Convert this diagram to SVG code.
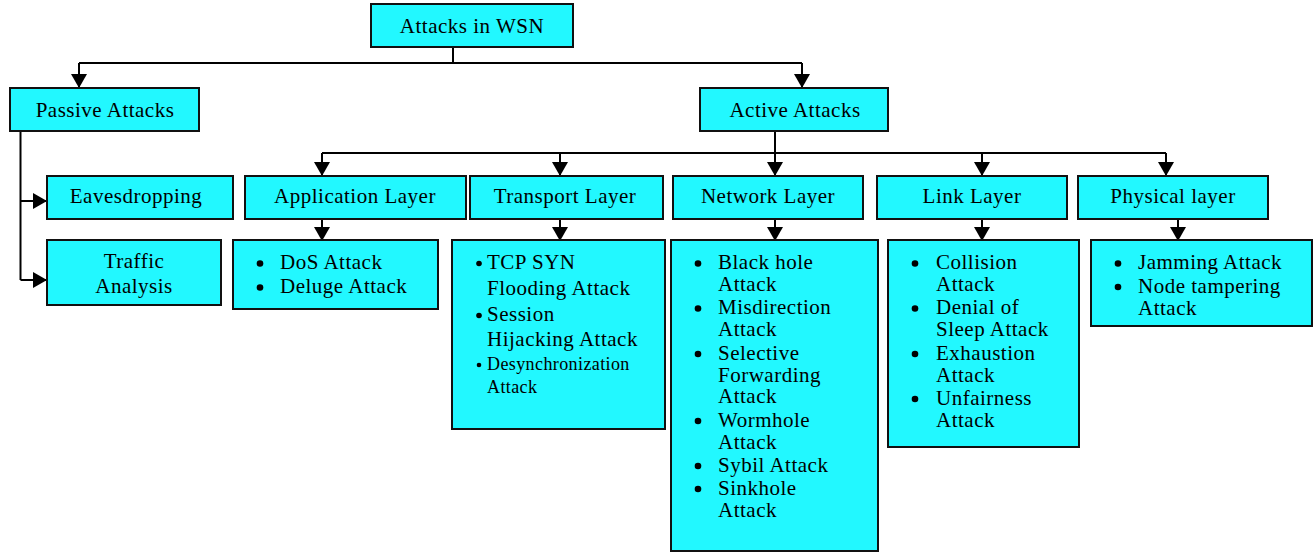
<svg xmlns="http://www.w3.org/2000/svg" width="1313" height="552" viewBox="0 0 1313 552">
<style>
.box{fill:#22F8FF;stroke:#111;stroke-width:2}
.t{font-family:"Liberation Serif","Times New Roman",serif;font-size:21px;letter-spacing:0.5px;fill:#000;text-anchor:middle}
.i{font-family:"Liberation Serif","Times New Roman",serif;font-size:21px;letter-spacing:0.5px;fill:#000}
.s{font-size:18px;letter-spacing:0.4px}
.c{fill:none;stroke:#000;stroke-width:2}
.b{fill:#000}
</style>
<defs>
<marker id="ah" viewBox="0 0 14 16" refX="14" refY="8" markerWidth="14" markerHeight="16" markerUnits="userSpaceOnUse" orient="auto">
<path d="M0,0 L14,8 L0,16 z" fill="#000"/>
</marker>
</defs>
<g id="connectors">
<path class="c" d="M453,47 V63"/>
<path class="c" d="M79,63 H802"/>
<path class="c" d="M79,63 V88" marker-end="url(#ah)"/>
<path class="c" d="M802,63 V88" marker-end="url(#ah)"/>
<path class="c" d="M20.5,131 V280"/>
<path class="c" d="M20.5,201 H47" marker-end="url(#ah)"/>
<path class="c" d="M20.5,280 H47" marker-end="url(#ah)"/>
<path class="c" d="M775,131 V153"/>
<path class="c" d="M322,153 H1166"/>
<path class="c" d="M322,153 V176" marker-end="url(#ah)"/>
<path class="c" d="M560,153 V176" marker-end="url(#ah)"/>
<path class="c" d="M775,153 V176" marker-end="url(#ah)"/>
<path class="c" d="M982,153 V176" marker-end="url(#ah)"/>
<path class="c" d="M1166,153 V176" marker-end="url(#ah)"/>
<path class="c" d="M322,219 V241" marker-end="url(#ah)"/>
<path class="c" d="M560,219 V241" marker-end="url(#ah)"/>
<path class="c" d="M775,219 V241" marker-end="url(#ah)"/>
<path class="c" d="M982,219 V241" marker-end="url(#ah)"/>
<path class="c" d="M1178,219 V241" marker-end="url(#ah)"/>
</g>
<g id="root">
<rect class="box" x="371" y="4" width="202" height="43"/>
<text class="t" x="472" y="32.5">Attacks in WSN</text>
</g>
<g id="passive">
<rect class="box" x="10" y="88" width="189" height="43"/>
<text class="t" x="105" y="117">Passive Attacks</text>
</g>
<g id="active">
<rect class="box" x="700" y="88" width="188" height="43"/>
<text class="t" x="795" y="117">Active Attacks</text>
</g>
<g id="eavesdropping">
<rect class="box" x="47" y="176" width="186" height="43"/>
<text class="t" x="136" y="203">Eavesdropping</text>
</g>
<g id="traffic">
<rect class="box" x="47" y="240" width="174" height="65"/>
<text class="t" x="134" y="268">Traffic</text>
<text class="t" x="134" y="293">Analysis</text>
</g>
<g id="application">
<rect class="box" x="245" y="176" width="221" height="43"/>
<text class="t" x="355" y="203">Application Layer</text>
</g>
<g id="transport">
<rect class="box" x="470" y="176" width="193" height="43"/>
<text class="t" x="565" y="203">Transport Layer</text>
</g>
<g id="network">
<rect class="box" x="673" y="176" width="190" height="43"/>
<text class="t" x="768" y="203">Network Layer</text>
</g>
<g id="link">
<rect class="box" x="877" y="176" width="190" height="43"/>
<text class="t" x="972" y="203">Link Layer</text>
</g>
<g id="physical">
<rect class="box" x="1078" y="176" width="190" height="43"/>
<text class="t" x="1173" y="203">Physical layer</text>
</g>
<g id="application-items">
<rect class="box" x="233" y="240" width="205" height="69"/>
<circle class="b" cx="260" cy="263.5" r="3.3"/>
<circle class="b" cx="260" cy="287.5" r="3.3"/>
<text class="i" x="280" y="269">DoS Attack</text>
<text class="i" x="280" y="293">Deluge Attack</text>
</g>
<g id="transport-items">
<rect class="box" x="452" y="240" width="213" height="189"/>
<circle class="b" cx="479" cy="263.5" r="2.8"/>
<circle class="b" cx="479" cy="315.5" r="2.8"/>
<circle class="b" cx="479" cy="365" r="2.3"/>
<text class="i" x="487" y="269">TCP SYN</text>
<text class="i" x="487" y="295">Flooding Attack</text>
<text class="i" x="487" y="321">Session</text>
<text class="i" x="487" y="346">Hijacking Attack</text>
<text class="i s" x="487" y="370">Desynchronization</text>
<text class="i s" x="487" y="393">Attack</text>
</g>
<g id="network-items">
<rect class="box" x="671" y="240" width="207" height="311"/>
<circle class="b" cx="698" cy="263.5" r="3.3"/>
<circle class="b" cx="698" cy="308.5" r="3.3"/>
<circle class="b" cx="698" cy="354" r="3.3"/>
<circle class="b" cx="698" cy="421" r="3.3"/>
<circle class="b" cx="698" cy="466" r="3.3"/>
<circle class="b" cx="698" cy="489" r="3.3"/>
<text class="i" x="718" y="269">Black hole</text>
<text class="i" x="718" y="291">Attack</text>
<text class="i" x="718" y="314">Misdirection</text>
<text class="i" x="718" y="336">Attack</text>
<text class="i" x="718" y="359.5">Selective</text>
<text class="i" x="718" y="381.5">Forwarding</text>
<text class="i" x="718" y="403">Attack</text>
<text class="i" x="718" y="426.5">Wormhole</text>
<text class="i" x="718" y="449">Attack</text>
<text class="i" x="718" y="471.5">Sybil Attack</text>
<text class="i" x="718" y="495">Sinkhole</text>
<text class="i" x="718" y="516.5">Attack</text>
</g>
<g id="link-items">
<rect class="box" x="888" y="240" width="191" height="207"/>
<circle class="b" cx="915" cy="263.5" r="3.3"/>
<circle class="b" cx="915" cy="308.5" r="3.3"/>
<circle class="b" cx="915" cy="354" r="3.3"/>
<circle class="b" cx="915" cy="399" r="3.3"/>
<text class="i" x="936" y="269">Collision</text>
<text class="i" x="936" y="291">Attack</text>
<text class="i" x="936" y="314">Denial of</text>
<text class="i" x="936" y="336">Sleep Attack</text>
<text class="i" x="936" y="359.5">Exhaustion</text>
<text class="i" x="936" y="381.5">Attack</text>
<text class="i" x="936" y="404.5">Unfairness</text>
<text class="i" x="936" y="426.5">Attack</text>
</g>
<g id="physical-items">
<rect class="box" x="1091" y="240" width="221" height="86"/>
<circle class="b" cx="1118" cy="263.5" r="3.3"/>
<circle class="b" cx="1118" cy="287" r="3.3"/>
<text class="i" x="1138" y="269">Jamming Attack</text>
<text class="i" x="1138" y="292.5">Node tampering</text>
<text class="i" x="1138" y="315">Attack</text>
</g>
</svg>
